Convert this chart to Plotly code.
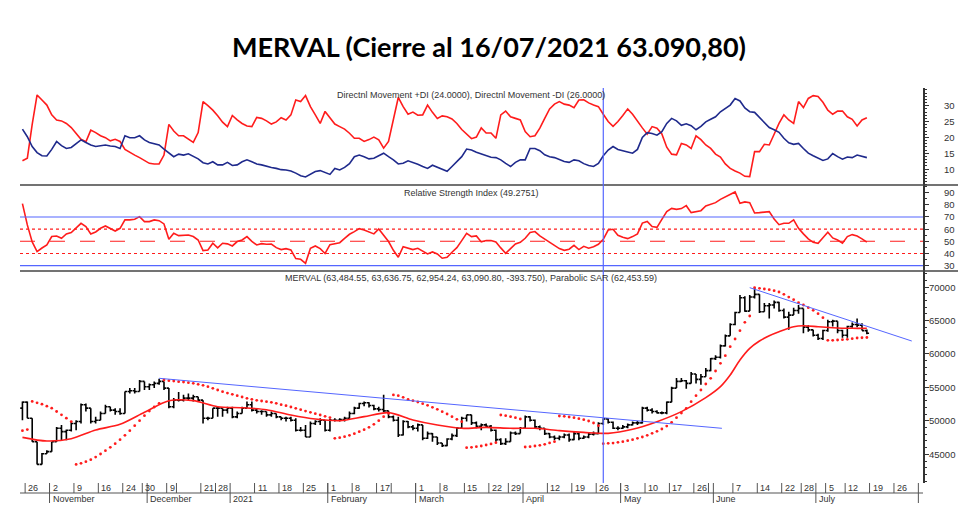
import pandas as pd
import plotly.graph_objects as go

# ---------------- trading calendar ----------------
holidays = ["2020-11-23", "2020-12-07", "2020-12-08", "2020-12-11", "2020-12-24", "2020-12-25",
            "2020-12-31", "2021-01-01", "2021-02-15", "2021-02-16", "2021-03-24", "2021-04-01",
            "2021-04-02", "2021-05-24", "2021-05-25", "2021-06-21", "2021-07-09"]
all_days = [d.strftime("%Y-%m-%d") for d in pd.bdate_range("2020-10-23", "2021-08-06")]
trading_days = [d for d in all_days if d not in holidays]
pos = {d: i for i, d in enumerate(trading_days)}

# ---------------- price data (MERVAL, daily) ----------------
open_ = [51900, 52800, 50400, 46900, 43500, 45100, 45400, 46900, 48900, 48400,
         48600, 49600, 49900, 52400, 51900, 49900, 50100, 51100, 52100, 51600,
         51400, 51100, 54400, 54500, 54400, 55900, 55100, 55400, 55600, 55900,
         54900, 52100, 53100, 53100, 53400, 53400, 53600, 53100, 50400, 50400,
         51900, 51900, 51600, 51900, 50600, 51100, 51900, 52400, 51600, 51400,
         51400, 50900, 51100, 50600, 50400, 50400, 50100, 48600, 48600, 47600,
         49600, 49900, 50100, 48600, 50100, 50100, 50200, 50400, 51100, 51900,
         52600, 52700, 52300, 51800, 51700, 51500, 50600, 50100, 47900, 49900,
         49100, 48900, 49400, 47400, 48100, 47600, 46700, 46300, 47300, 47800,
         48900, 50400, 50900, 49700, 49200, 49400, 49200, 48600, 47200, 46600,
         46900, 48200, 48100, 48900, 50600, 50100, 49100, 48900, 48100, 47600,
         47400, 47600, 47900, 47200, 48100, 47400, 47600, 48000, 48100, 49600,
         50300, 49800, 48900, 48900, 49100, 49400, 49700, 49700, 51900, 51600,
         51400, 51200, 51200, 52800, 54900, 55900, 56000, 55600, 57000, 56200,
         56600, 57500, 59300, 59500, 61200, 62700, 64400, 66200, 68400, 66400,
         68500, 68900, 66300, 67200, 67300, 67700, 66500, 65500, 65800, 66500,
         66800, 64000, 63600, 62800, 62300, 63500, 64800, 64900, 63500, 62800,
         64100, 64400, 64300, 63484.55]
high = [52900, 52900, 50400, 46900, 45200, 45600, 46900, 49100, 49400, 48700,
        49900, 50100, 52600, 52600, 51900, 50600, 51400, 52400, 52100, 51900,
        51900, 54400, 54900, 54900, 56100, 55900, 55600, 55900, 56300, 55900,
        54900, 53400, 54300, 53900, 54100, 53900, 53600, 53100, 50600, 51900,
        52100, 51900, 52100, 52100, 51400, 52100, 52900, 52900, 51900, 51600,
        51400, 51400, 51100, 50600, 50600, 50600, 50400, 49100, 49400, 49900,
        50100, 50400, 50100, 50300, 50400, 50400, 50600, 51400, 52100, 52700,
        52900, 52800, 52400, 52100, 53900, 51500, 50800, 50600, 50100, 50000,
        49400, 49600, 49400, 48400, 48200, 47600, 46700, 47400, 48100, 49100,
        50600, 50900, 50900, 49900, 49600, 49600, 49400, 48700, 47400, 47400,
        48400, 48400, 49100, 50800, 50700, 50200, 49300, 48900, 48200, 47800,
        47800, 48100, 48100, 48400, 48200, 47800, 48200, 48400, 49800, 50400,
        50400, 49900, 49200, 49400, 49600, 49900, 50000, 52100, 52100, 51900,
        51600, 51400, 52900, 55100, 56400, 56400, 56100, 57300, 57000, 57000,
        57900, 59400, 59800, 61400, 62900, 64600, 66300, 68800, 68600, 68800,
        69900, 68900, 67600, 67600, 68000, 67800, 66800, 66300, 66900, 67300,
        66800, 64300, 63600, 63000, 63600, 65100, 65100, 64900, 63600, 64200,
        64700, 65300, 64600, 63636.75]
low = [50100, 50400, 46900, 43500, 43500, 45100, 45400, 46900, 47100, 47100,
       48400, 48600, 49600, 51400, 49600, 49600, 50100, 51100, 51400, 50900,
       50900, 51100, 54100, 54100, 54400, 54600, 54600, 54900, 55400, 54600,
       51900, 51900, 52900, 52900, 53100, 52900, 52900, 49600, 50100, 50400,
       50600, 50600, 51100, 50400, 50400, 51100, 51900, 51400, 51100, 50900,
       50600, 50600, 50400, 50100, 49900, 49900, 48400, 48400, 47600, 47600,
       49400, 49400, 48400, 48400, 49900, 49900, 49900, 50300, 51000, 51800,
       52200, 52000, 51600, 51400, 51300, 50400, 49900, 47600, 47800, 48900,
       48600, 48400, 47100, 47300, 46900, 46400, 46100, 46200, 47100, 47600,
       48900, 49900, 49400, 48900, 48600, 49000, 48400, 46900, 46400, 46400,
       46900, 47900, 48100, 48800, 49900, 48900, 48600, 47900, 47400, 47100,
       47100, 47400, 46900, 47100, 47100, 47300, 47400, 47800, 48000, 49400,
       49600, 48800, 48600, 48800, 48900, 49300, 49400, 49600, 51400, 51100,
       51100, 51000, 51000, 52800, 54900, 55800, 54800, 55600, 55600, 55400,
       56600, 57400, 59100, 59300, 61100, 62700, 64300, 66200, 66300, 66400,
       68300, 66100, 66300, 65300, 66800, 66300, 65300, 63600, 65800, 66000,
       63100, 63300, 62600, 62100, 62100, 63300, 64100, 63100, 62400, 62400,
       63900, 64000, 63500, 62954.24]
close = [52800, 50400, 46900, 43500, 45100, 45400, 46900, 48900, 48400, 48600,
         49600, 49900, 52400, 51900, 49900, 50100, 51100, 52100, 51600, 51400,
         51100, 54400, 54500, 54400, 55900, 55100, 55400, 55600, 55900, 54900,
         52100, 53100, 53100, 53400, 53400, 53600, 53100, 50400, 50400, 51900,
         51900, 51600, 51900, 50600, 51100, 51900, 52400, 51600, 51400, 51400,
         50900, 51100, 50600, 50400, 50400, 50100, 48600, 48600, 47600, 49600,
         49900, 50100, 48600, 50100, 50100, 50200, 50400, 51100, 51900, 52600,
         52700, 52300, 51800, 51700, 51500, 50600, 50100, 47900, 49900, 49100,
         48900, 49400, 47400, 48100, 47600, 46700, 46300, 47300, 47800, 48900,
         50400, 50900, 49700, 49200, 49400, 49200, 48600, 47200, 46600, 46900,
         48200, 48100, 48900, 50600, 50100, 49100, 48900, 48100, 47600, 47400,
         47600, 47900, 47200, 48100, 47400, 47600, 48000, 48100, 49600, 50300,
         49800, 48900, 48900, 49100, 49400, 49700, 49700, 51900, 51600, 51400,
         51200, 51200, 52800, 54900, 55900, 56000, 55600, 57000, 56200, 56600,
         57500, 59300, 59500, 61200, 62700, 64400, 66200, 68400, 66400, 68500,
         68900, 66300, 67200, 67300, 67700, 66500, 65500, 65800, 66500, 66800,
         64000, 63600, 62800, 62300, 63500, 64800, 64900, 63500, 62800, 64100,
         64400, 64300, 63484.55, 63090.80]

# moving average (read at sampled days)
ma_idx = [0, 5, 10, 15, 20, 25, 30, 35, 40, 45, 50, 55, 60, 65, 70, 75, 80, 85, 90, 95, 100,
          105, 110, 115, 120, 125, 130, 135, 140, 143, 145, 147, 149, 151, 153, 155, 158, 160,
          163, 166, 170, 173]
ma_val = [47540, 46990, 47340, 48640, 49480, 51280, 53020, 53020, 52120, 51970, 51670, 50880,
          50280, 50030, 50630, 51230, 50130, 49380, 48890, 49030, 48890, 48890, 48540, 48290,
          48140, 48740, 49880, 51380, 53470, 55110, 56850, 59100, 60840, 61930, 62730, 63330,
          64070, 64220, 64070, 63920, 63830, 63830]

# parabolic SAR
sar = [48540, 48700, 52900, 52700, 52500, 52200, 51900, 51400, 50900, 50400,
       49900, 43500, 43660, 43900, 44200, 44600, 45050, 45550, 46050, 46600,
       47190, 47840, 48540, 49280, 50030, 50780, 51470, 52070, 52620, 56110,
       56010, 55960, 55860, 55810, 55710, 55610, 55460, 55310, 55110, 54860,
       54610, 54360, 54160, 53960, 53770, 53570, 53370, 53220, 53070, 52970,
       52870, 52770, 52620, 52420, 52270, 52070, 51870, 51670, 51470, 51280,
       51080, 50880, 50680, 50500, 47390, 47490, 47640, 47840, 48090, 48390,
       48680, 49030, 49480, 50030, 50630, 51130, 53870, 53770, 53520, 53220,
       53020, 52820, 52570, 52320, 52020, 51720, 51380, 51030, 50630, 50230,
       49880, 46000, 46050, 46150, 46250, 46400, 46550, 46740, 50880, 50780,
       50630, 50480, 50280, 46100, 46150, 46250, 46350, 46500, 46700, 46900,
       50730, 50680, 50580, 50480, 50330, 50180, 49980, 49680, 49280, 46600,
       46640, 46690, 46790, 46890, 47040, 47190, 47390, 47590, 47840, 48140,
       48440, 48790, 49230, 49780, 50480, 51180, 51870, 52870, 53770, 54610,
       55510, 56350, 57450, 58600, 59740, 61090, 62230, 63480, 64720, 65670,
       69900, 69800, 69700, 69600, 69450, 69250, 68900, 68500, 68110, 67660,
       67310, 66910, 66510, 66020, 65420, 62030, 62030, 62080, 62130, 62180,
       62280, 62380, 62420, 62453.59]

# directional movement (blue / red lines)
dmi_blue = [22.6, 20.2, 17.1, 15.2, 14.2, 14.1, 16.2, 18.7, 17.4, 16.5,
            16.8, 17.9, 19.2, 18.4, 17.6, 17.1, 17.4, 17.6, 17.3, 17.1,
            16.5, 20.5, 19.9, 19.9, 20.5, 19.2, 18.4, 18.1, 17.6, 16.3,
            15.2, 13.9, 14.7, 14.4, 14.8, 14.1, 13.2, 12.0, 11.6, 12.3,
            11.3, 11.3, 12.1, 11.1, 11.3, 12.3, 12.9, 12.3, 11.6, 11.3,
            10.8, 10.5, 10.2, 9.8, 9.7, 9.4, 8.7, 7.9, 7.5, 8.3,
            9.2, 9.5, 8.9, 8.3, 10.2, 9.7, 10.5, 11.7, 13.9, 14.4,
            13.9, 13.2, 13.4, 14.2, 15.0, 13.9, 12.9, 11.6, 11.8, 12.6,
            12.1, 11.5, 10.8, 10.2, 11.2, 10.5, 9.8, 9.3, 10.8, 12.3,
            13.9, 16.3, 16.0, 15.3, 14.8, 14.1, 13.7, 13.6, 12.9, 11.8,
            10.8, 12.1, 12.9, 12.9, 16.5, 16.5, 15.8, 14.5, 13.9, 13.6,
            13.0, 12.4, 12.1, 12.9, 12.6, 11.7, 11.1, 10.8, 11.8, 14.2,
            16.0, 17.1, 16.2, 15.7, 15.4, 15.0, 16.2, 20.0, 21.5, 21.2,
            20.7, 21.8, 24.4, 26.0, 25.2, 23.8, 24.3, 23.7, 22.4, 23.5,
            24.9, 25.7, 26.5, 28.1, 29.2, 30.2, 32.3, 31.5, 29.3, 28.1,
            27.9, 26.2, 24.5, 23.1, 22.4, 21.6, 19.7, 18.3, 17.8, 18.1,
            16.5, 15.0, 14.2, 13.4, 12.7, 13.2, 14.9, 13.9, 13.1, 13.8,
            13.6, 14.4, 13.9, 13.6]
dmi_red = [12.6, 13.4, 24.1, 33.4, 31.8, 30.2, 27.1, 25.5, 25.2, 24.4,
           23.1, 21.3, 19.4, 18.6, 22.3, 21.5, 20.5, 19.9, 18.9, 19.4,
           18.7, 16.2, 15.2, 14.4, 13.6, 12.7, 11.8, 11.6, 11.6, 14.4,
           24.1, 22.0, 20.5, 20.5, 19.5, 18.4, 21.5, 31.3, 30.0, 28.6,
           26.8, 24.8, 23.4, 26.9, 25.5, 24.4, 23.6, 23.4, 26.3, 26.0,
           25.2, 24.2, 24.9, 26.2, 25.5, 27.1, 31.8, 31.3, 33.2, 29.7,
           27.1, 24.4, 28.2, 26.0, 24.2, 23.4, 22.6, 21.3, 19.7, 19.7,
           18.7, 19.3, 20.1, 19.2, 16.6, 18.7, 26.0, 32.6, 29.7, 27.3,
           28.0, 27.0, 27.1, 30.2, 27.9, 26.0, 26.8, 26.5, 25.8, 24.4,
           22.5, 21.1, 19.6, 20.1, 23.0, 21.4, 21.4, 19.7, 27.1, 28.3,
           26.5, 26.0, 25.5, 21.8, 20.2, 20.5, 22.9, 26.0, 29.0, 30.5,
           31.3, 30.5, 30.2, 29.4, 31.8, 31.9, 30.9, 30.2, 29.7, 27.3,
           25.0, 23.5, 25.0, 26.9, 29.0, 27.3, 25.0, 23.0, 21.0, 23.4,
           22.9, 21.1, 16.9, 14.7, 14.5, 18.1, 17.6, 16.5, 20.5, 19.3,
           17.6, 16.5, 14.7, 13.8, 11.6, 10.2, 9.4, 8.7, 7.7, 7.6,
           15.5, 15.5, 17.8, 17.6, 21.0, 24.4, 27.1, 25.5, 24.4, 31.3,
           29.4, 32.3, 33.2, 32.9, 31.1, 28.6, 27.3, 28.3, 28.3, 26.5,
           25.7, 23.6, 25.5, 26.2]

# relative strength index
rsi = [81.0, 63.5, 49.5, 41.5, 44.5, 47.0, 53.9, 54.4, 52.5, 56.0,
       57.2, 60.7, 64.8, 62.1, 56.1, 57.7, 60.7, 62.6, 60.7, 58.5,
       60.7, 67.6, 67.6, 68.1, 70.3, 66.2, 66.2, 67.6, 67.0, 64.3,
       51.7, 56.6, 54.7, 55.2, 55.2, 53.9, 51.1, 42.4, 42.9, 48.4,
       44.6, 48.4, 47.9, 46.2, 49.8, 51.1, 53.9, 50.0, 47.0, 48.1,
       47.6, 47.8, 44.8, 43.2, 44.0, 42.9, 35.8, 35.2, 31.9, 44.3,
       46.2, 44.0, 40.0, 47.3, 48.4, 48.9, 52.5, 55.8, 58.0, 60.4,
       59.3, 57.4, 56.1, 60.2, 55.2, 49.8, 42.6, 36.9, 45.6, 44.3,
       43.2, 44.3, 41.8, 39.6, 41.3, 39.6, 36.1, 36.9, 41.0, 44.8,
       50.6, 56.6, 53.9, 54.4, 49.5, 50.6, 50.6, 49.5, 44.6, 40.2,
       44.0, 47.8, 49.2, 52.5, 57.2, 58.0, 54.4, 51.7, 49.5, 46.7,
       44.0, 42.6, 43.5, 46.7, 43.2, 45.9, 44.3, 45.6, 47.6, 51.7,
       59.3, 59.9, 55.0, 53.3, 52.2, 53.9, 56.1, 65.0, 66.3, 62.1,
       61.5, 68.1, 74.4, 77.1, 76.3, 76.9, 79.3, 73.6, 74.4, 75.2,
       79.1, 80.2, 81.8, 84.5, 86.7, 88.7, 90.6, 81.3, 82.4, 81.8,
       73.3, 73.6, 73.9, 74.4, 68.4, 63.7, 64.8, 64.8, 67.6, 60.7,
       56.1, 52.0, 49.2, 48.4, 53.0, 57.4, 52.8, 51.1, 48.4, 53.9,
       55.5, 54.4, 52.0, 49.28]

# trend lines drawn on the price panel (trading-day index, price)
trend1_x = [28, 143.3]
trend1_y = [56360, 48890]
trend2_x = [149, 182.2]
trend2_y = [69900, 61930]
cursor_day = "2021-04-27"

# y-axis tick labels
dmi_ticks = [10, 15, 20, 25, 30]
rsi_ticks = [30, 40, 50, 60, 70, 80, 90]
price_ticks = [45000, 50000, 55000, 60000, 65000, 70000]

# x-axis labels
week_labels = [("2020-10-26", "26"), ("2020-11-02", "2"), ("2020-11-09", "9"), ("2020-11-16", "16"),
               ("2020-11-24", "24"), ("2020-11-30", "30"), ("2020-12-09", "9"), ("2020-12-14", ""),
               ("2020-12-21", "21"), ("2020-12-28", "28"), ("2021-01-11", "11"), ("2021-01-18", "18"),
               ("2021-01-25", "25"), ("2021-02-01", "1"), ("2021-02-08", "8"), ("2021-02-17", "17"),
               ("2021-02-22", ""), ("2021-03-01", "1"), ("2021-03-08", "8"), ("2021-03-15", "15"),
               ("2021-03-22", "22"), ("2021-03-29", "29"), ("2021-04-12", "12"), ("2021-04-19", "19"),
               ("2021-04-26", "26"), ("2021-05-03", "3"), ("2021-05-10", "10"), ("2021-05-17", "17"),
               ("2021-05-26", "26"), ("2021-05-31", ""), ("2021-06-07", "7"), ("2021-06-14", "14"),
               ("2021-06-22", "22"), ("2021-06-28", "28"), ("2021-07-05", "5"), ("2021-07-12", "12"),
               ("2021-07-19", "19"), ("2021-07-26", "26")]
month_labels = [("2020-11-02", "November"), ("2020-12-01", "December"), ("2021-01-04", "2021"),
                ("2021-02-01", "February"), ("2021-03-01", "March"), ("2021-04-05", "April"),
                ("2021-05-03", "May"), ("2021-06-01", "June"), ("2021-07-01", "July"),
                ("2021-08-02", "")]

# ---------------- layout geometry (pixels in the window; page body adds an 8px offset) ----------------
W, H = 980, 524
OFF = 8
PL, PR, PT, PB = 20 - OFF, 923 - OFF, 88 - OFF, 483 - OFF
ph = PB - PT
def py(ypx):
    return (PB - (ypx - OFF)) / ph
def px(xpx):
    return ((xpx - OFF) - PL) / (PR - PL)

x = list(range(len(close)))
RED = "#ff1c1c"
NAVY = "#1f2a8c"
LBLUE = "#5566ff"
AX = "#333333"
FONT = "Liberation Sans, Arial, sans-serif"

fig = go.Figure()
fig.add_trace(go.Scatter(x=x, y=dmi_red, mode="lines", line=dict(color=RED, width=1.6),
                         yaxis="y", showlegend=False, hoverinfo="skip"))
fig.add_trace(go.Scatter(x=x, y=dmi_blue, mode="lines", line=dict(color=NAVY, width=1.6),
                         yaxis="y", showlegend=False, hoverinfo="skip"))
fig.add_trace(go.Scatter(x=x, y=rsi, mode="lines", line=dict(color=RED, width=1.6),
                         yaxis="y2", showlegend=False, hoverinfo="skip"))
fig.add_trace(go.Ohlc(x=x, open=open_, high=high, low=low, close=close, yaxis="y3",
                      increasing=dict(line=dict(color="black", width=1.6)),
                      decreasing=dict(line=dict(color="black", width=1.6)),
                      tickwidth=0.45, showlegend=False, hoverinfo="skip"))
fig.add_trace(go.Scatter(x=ma_idx, y=ma_val, mode="lines", line=dict(color=RED, width=1.6, shape="spline", smoothing=0.8),
                         yaxis="y3", showlegend=False, hoverinfo="skip"))
fig.add_trace(go.Scatter(x=x, y=sar, mode="markers", marker=dict(color=RED, size=2.8),
                         yaxis="y3", showlegend=False, hoverinfo="skip"))
fig.add_trace(go.Scatter(x=trend1_x, y=trend1_y, mode="lines", line=dict(color=LBLUE, width=1),
                         yaxis="y3", showlegend=False, hoverinfo="skip"))
fig.add_trace(go.Scatter(x=trend2_x, y=trend2_y, mode="lines", line=dict(color=LBLUE, width=1),
                         yaxis="y3", showlegend=False, hoverinfo="skip"))

yax_common = dict(side="right", anchor="x", showgrid=False, zeroline=False, showline=True,
                  linecolor=AX, linewidth=1.5, ticks="outside", ticklen=4, tickcolor=AX,
                  automargin=False, showticklabels=False)
fig.update_layout(
    width=W, height=H, plot_bgcolor="white", paper_bgcolor="white",
    margin=dict(l=PL, r=W - PR, t=PT, b=H - PB, autoexpand=False),
    xaxis=dict(range=[-0.5, 184.5], showticklabels=False, showgrid=False, zeroline=False,
               showline=False, ticks="", automargin=False, rangeslider=dict(visible=False)),
    yaxis=dict(domain=[py(185), 1], range=[4.95, 35.6], tickvals=dmi_ticks,
               minor=dict(dtick=1, ticklen=2, tickcolor=AX, ticks="outside"), **yax_common),
    yaxis2=dict(domain=[py(271), py(185)], range=[25.6, 96.3], tickvals=rsi_ticks,
                minor=dict(dtick=5, ticklen=2, tickcolor=AX, ticks="outside"), **yax_common),
    yaxis3=dict(domain=[0, py(271)], range=[40720, 72390], tickvals=price_ticks,
                minor=dict(dtick=1000, ticklen=2, tickcolor=AX, ticks="outside"), **yax_common),
    title=dict(text="<b>MERVAL (Cierre al 16/07/2021 63.090,80)</b>", x=(489 - OFF) / W, xref="container",
               y=1 - (48 - OFF) / H, yref="container", xanchor="center", yanchor="middle", automargin=False,
               font=dict(family="Lato, Open Sans, sans-serif", size=27, color="black")),
)

shapes = []
# panel separators
for ysep in (185, 271):
    shapes.append(dict(type="line", xref="paper", yref="paper", x0=0, x1=px(958), y0=py(ysep), y1=py(ysep),
                       line=dict(color="#444444", width=1.5)))
# RSI reference levels
for lvl, col, dash in [(70, LBLUE, "solid"), (30, LBLUE, "solid"), (60, RED, "dot"),
                       (40, RED, "dot"), (50, RED, "dash")]:
    shapes.append(dict(type="line", xref="paper", yref="y2", x0=0, x1=1, y0=lvl, y1=lvl,
                       line=dict(color=col, width=1.2 if col == LBLUE else 1.1,
                                 dash="longdash" if dash == "dash" else dash)))
# cursor
shapes.append(dict(type="line", xref="x", yref="paper", x0=pos[cursor_day], x1=pos[cursor_day],
                   y0=0, y1=1, line=dict(color=LBLUE, width=1.2)))
# x axis line and tick bars
shapes.append(dict(type="line", xref="paper", yref="paper", x0=0, x1=1, y0=py(493), y1=py(493),
                   line=dict(color="#555555", width=1.2)))
for d, _ in week_labels:
    shapes.append(dict(type="line", xref="x", yref="paper", x0=pos[d] - 0.45, x1=pos[d] - 0.45,
                       y0=py(483), y1=py(493), line=dict(color="#555555", width=1)))
for d, _ in month_labels:
    shapes.append(dict(type="line", xref="x", yref="paper", x0=pos[d] - 0.45, x1=pos[d] - 0.45,
                       y0=py(483), y1=py(503), line=dict(color="#555555", width=1)))

annotations = []
# right-aligned y tick labels
for ref, vals in (("y", dmi_ticks), ("y2", rsi_ticks), ("y3", price_ticks)):
    for v in vals:
        annotations.append(dict(x=px(957), y=v, xref="paper", yref=ref, text=str(v), showarrow=False,
                                xanchor="right", yanchor="middle",
                                font=dict(family=FONT, size=9.5, color=AX)))
for d, t in week_labels:
    if t:
        annotations.append(dict(x=pos[d] - 0.45, y=py(488), xref="x", yref="paper", text=t, showarrow=False,
                                xanchor="left", yanchor="middle", xshift=1,
                                font=dict(family=FONT, size=9, color=AX)))
for d, t in month_labels:
    if t:
        annotations.append(dict(x=pos[d] - 0.45, y=py(499), xref="x", yref="paper", text=t, showarrow=False,
                                xanchor="left", yanchor="middle", xshift=1,
                                font=dict(family=FONT, size=9, color=AX)))
panel_titles = [
    (95, "Directnl Movement +DI (24.0000), Directnl Movement -DI (26.0000)"),
    (193, "Relative Strength Index (49.2751)"),
    (278, "MERVAL (63,484.55, 63,636.75, 62,954.24, 63,090.80, -393.750), Parabolic SAR (62,453.59)"),
]
for ypx, t in panel_titles:
    annotations.append(dict(x=px(471), y=py(ypx), xref="paper", yref="paper", text=t, showarrow=False,
                            xanchor="center", yanchor="middle", bgcolor="rgba(255,255,255,0)",
                            font=dict(family=FONT, size=9, color=AX)))

fig.update_layout(shapes=shapes, annotations=annotations)
fig.write_html("out.html")
